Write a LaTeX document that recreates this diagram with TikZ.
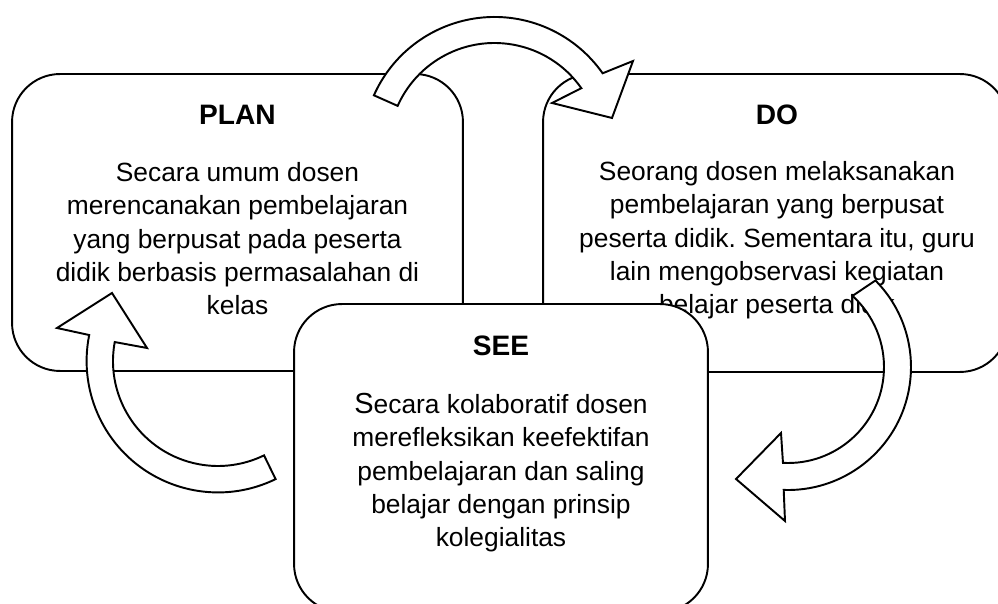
\documentclass[tikz,border=0pt]{standalone}
\usepackage{fontspec}
\setmainfont{Liberation Sans}
\usetikzlibrary{calc}
\frenchspacing

\tikzset{
  boite/.style={draw, line width=1.1pt, fill=white, rounded corners=0.96cm, inner sep=0pt},
  titre/.style={font=\fontsize{16}{19}\selectfont\bfseries, anchor=base, inner sep=0pt},
  texte/.style={font=\fontsize{15}{19}\selectfont, align=center, anchor=base, inner sep=0pt},
  fleche/.style={draw, line width=1.1pt, fill=white, line join=miter}
}

\begin{document}
\begin{tikzpicture}[x=0.02cm, y=-0.02cm]
  \useasboundingbox (0,0) rectangle (998,604);
  \clip (0,0) rectangle (998,604);
  % PLAN
  \node[boite, minimum width=9.02cm, minimum height=5.94cm] (plan) at (237.5,222.5) {};
  \node[titre] (plan-titre) at (237.5,125) {PLAN};
  \node[texte] (plan-texte) at (237.5,315) {Secara umum dosen\\merencanakan pembelajaran\\yang berpusat pada peserta\\didik berbasis permasalahan di\\kelas}; % base = derniere ligne
  % DO
  \node[boite, minimum width=9.3cm, minimum height=5.96cm] (do) at (775.5,223) {};
  \node[titre] (do-titre) at (777,125) {DO};
  \node[texte] (do-texte) at (777,314) {Seorang dosen melaksanakan\\pembelajaran yang berpusat\\peserta didik. Sementara itu, guru\\lain mengobservasi kegiatan\\belajar peserta didik};
  % fleche PLAN -> DO
  \coordinate (c-haut) at (494.5,149);
  \draw[fleche] ($(c-haut)+(-156:132)$) arc[start angle=-156, end angle=-35, radius=132]
      -- (633,61) -- (612,118) -- (552,103) % pointe
      -- ($(c-haut)+(-35:106)$) arc[start angle=-35, end angle=-156, radius=106] -- cycle;
  % SEE
  \node[boite, minimum width=8.28cm, minimum height=6.16cm] (see) at (501,458) {};
  \node[titre] (see-titre) at (501,356) {SEE};
  \node[texte] (see-texte) at (501,547) {{\fontsize{16.5}{19}\selectfont S}ecara kolaboratif dosen\\merefleksikan keefektifan\\pembelajaran dan saling\\belajar dengan prinsip\\kolegialitas};
  % fleche SEE -> PLAN
  \coordinate (c-gauche) at (218,361);
  \draw[fleche] ($(c-gauche)+(64:131.4)$) arc[start angle=64, end angle=191.4, radius=131.4]
      -- (57,328) -- (112,293) -- (147,348) % pointe
      -- ($(c-gauche)+(190.4:105)$) arc[start angle=190.4, end angle=64, radius=105] -- cycle;
  % fleche DO -> SEE
  \coordinate (c-droite) at (788,367);
  \draw[fleche] ($(c-droite)+(-44.7:123)$) arc[start angle=-44.7, end angle=92, radius=123]
      -- (785,521) -- (736,479) -- (781,433) % pointe
      -- ($(c-droite)+(93:96)$) arc[start angle=93, end angle=-47.8, radius=96] -- cycle;
\end{tikzpicture}
\end{document}
